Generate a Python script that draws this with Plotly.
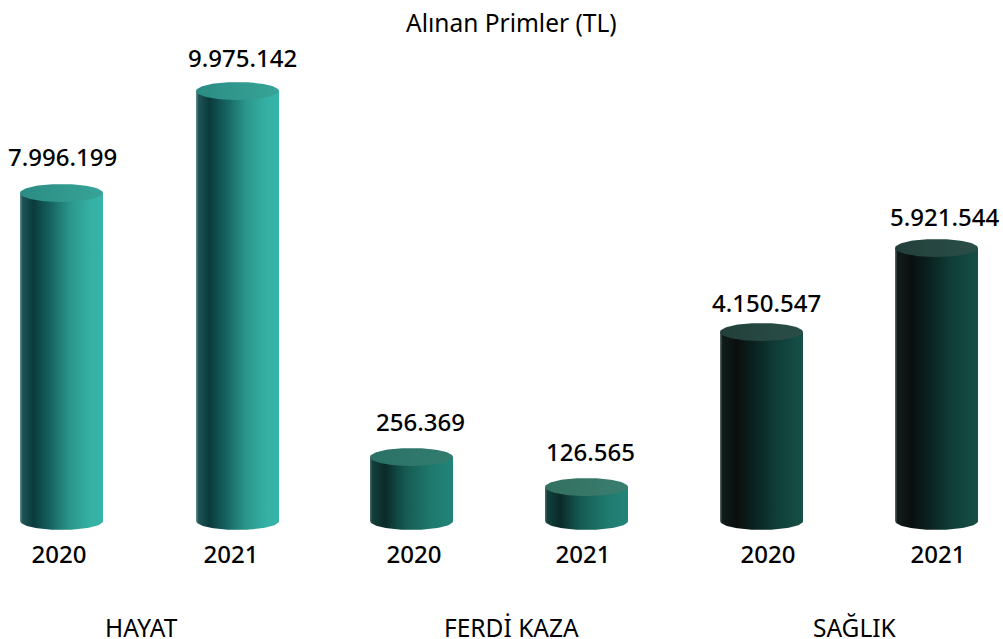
import numpy as np
import plotly.graph_objects as go

# --- data ---
groups = ["HAYAT", "FERDİ KAZA", "SAĞLIK"]
years = ["2020", "2021", "2020", "2021", "2020", "2021"]
premium_labels = ["7.996.199", "9.975.142", "256.369", "126.565", "4.150.547", "5.921.544"]
# heights as drawn in the picture (the artwork is not to scale), in axis units
drawn_heights = [328, 430, 64, 34, 189, 273]

# --- layout ---
W, H = 1003, 639
BASE_Y = 521
PLOT_BOTTOM = 535
bar_x = [61.5, 237.5, 411.5, 586.5, 761.5, 936.5]
RX, RY = 41.5, 9
label_x = [62.5, 242.5, 420, 590.5, 766, 944]
label_gap = [41, 38, 40, 40, 34, 36]
year_x = [59, 231, 414, 583, 768, 938]
group_x = [141, 511, 855]

TEAL = [[0, "#6f8f8f"], [0.03, "#1f5557"], [0.16, "#0b3a3c"], [0.35, "#14605f"],
        [0.6, "#2b968b"], [0.85, "#35b0a4"], [1, "#37b3a7"]]
MID = [[0, "#4a6f6a"], [0.03, "#12403c"], [0.18, "#0a2a28"], [0.42, "#155a52"],
       [0.75, "#1f7a6e"], [1, "#22857a"]]
DARK = [[0, "#5d6f6c"], [0.03, "#101c1a"], [0.2, "#0a0f0e"], [0.38, "#0a1f1d"],
        [0.7, "#0f3f3a"], [1, "#174f46"]]
bar_scale = [TEAL, TEAL, MID, MID, DARK, DARK]
cap_scale = [
    [[0, "#2b8c84"], [1, "#37a497"]],
    [[0, "#2b8c84"], [1, "#37a497"]],
    [[0, "#2a7066"], [1, "#327d70"]],
    [[0, "#33705f"], [1, "#3a7e70"]],
    [[0, "#223f3a"], [1, "#2a4f48"]],
    [[0, "#223f3a"], [1, "#2a4f48"]],
]

theta = np.linspace(0, np.pi, 60)
fig = go.Figure()
for cx, h, bs, cs in zip(bar_x, drawn_heights, bar_scale, cap_scale):
    # body: lower half of the base ellipse, closed along the cap's centre line
    xb = cx + RX * np.cos(theta[::-1])
    yb = -RY * np.sin(theta[::-1])
    fig.add_trace(go.Scatter(
        x=np.r_[xb, cx + RX, cx - RX, xb[0]], y=np.r_[yb, h, h, yb[0]],
        mode="lines", line=dict(width=0), fill="toself",
        fillgradient=dict(type="horizontal", colorscale=bs),
        hoverinfo="skip", showlegend=False))
    # cap ellipse
    t = np.linspace(0, 2 * np.pi, 120)
    fig.add_trace(go.Scatter(
        x=cx + RX * np.cos(t), y=h + RY * np.sin(t),
        mode="lines", line=dict(width=0), fill="toself",
        fillgradient=dict(type="horizontal", colorscale=cs),
        hoverinfo="skip", showlegend=False))

FONT = "Noto Sans"
def paper_y(px):
    return (PLOT_BOTTOM - px) / PLOT_BOTTOM

ann = []
for x, h, gap, txt in zip(label_x, drawn_heights, label_gap, premium_labels):
    ann.append(dict(x=x, y=h, xref="x", yref="y", text=txt, showarrow=False,
                    yshift=gap - 4,
                    font=dict(family=FONT, size=24, weight=500, color="#000000")))
for x, g in zip(group_x, groups):
    ann.append(dict(x=x, y=paper_y(627), xref="x", yref="paper", text=g, showarrow=False,
                    yanchor="middle",
                    font=dict(family=FONT, size=24.5, color="#000000")))
ann.append(dict(x=511, y=paper_y(22), xref="x", yref="paper", text="Alınan Primler (TL)",
                showarrow=False, yanchor="middle",
                font=dict(family=FONT, size=24.5, color="#000000")))

fig.update_layout(
    width=W, height=H, margin=dict(l=0, r=0, t=0, b=H - PLOT_BOTTOM),
    paper_bgcolor="#ffffff", plot_bgcolor="#ffffff", showlegend=False,
    annotations=ann,
    xaxis=dict(range=[0, W], showgrid=False, zeroline=False, showline=False,
               tickmode="array", tickvals=year_x, ticktext=years, ticklen=0,
               ticklabelstandoff=3,
               tickfont=dict(family=FONT, size=24, weight=500, color="#000000")),
    yaxis=dict(range=[BASE_Y - PLOT_BOTTOM, BASE_Y], visible=False),
)
fig.write_html("out.html", config={"displayModeBar": False},
               post_script="document.body.style.margin='0';")
